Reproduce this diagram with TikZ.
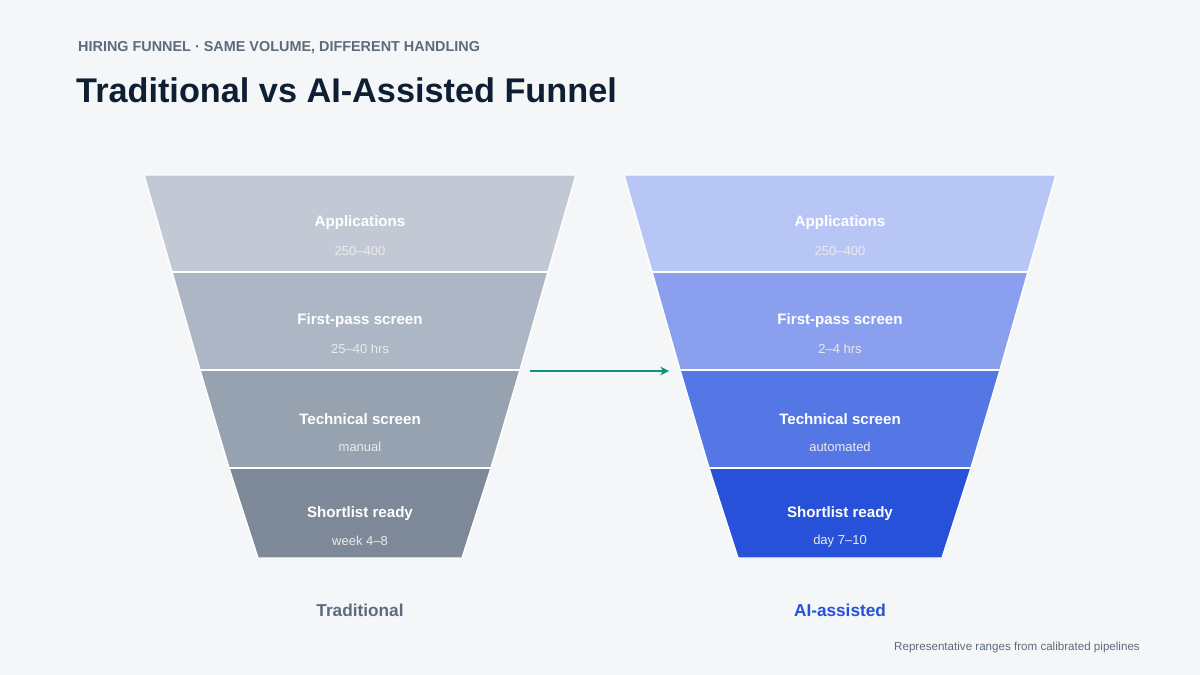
\documentclass[tikz,border=0pt]{standalone}
\usepackage{fontspec}
\setmainfont{Liberation Sans}
\usetikzlibrary{positioning, arrows.meta}
\definecolor{bg}{HTML}{F4F6F8}
\definecolor{ink}{HTML}{0F1F33}
\definecolor{muted}{HTML}{5E6B7C}
\definecolor{tA}{HTML}{C2C9D4}
\definecolor{tB}{HTML}{ADB6C4}
\definecolor{tC}{HTML}{97A2B1}
\definecolor{tD}{HTML}{7D8898}
\definecolor{aA}{HTML}{B8C6F5}
\definecolor{aB}{HTML}{8AA0EE}
\definecolor{aC}{HTML}{5577E5}
\definecolor{aD}{HTML}{2651D8}
\definecolor{teal}{HTML}{13917F}
\tikzset{%
  band/.style={draw=white, line width=0.8pt},
  stage/.style={text=white, font=\fontsize{8.6}{10}\selectfont\bfseries},
  detail/.style={text=white!92!black, font=\fontsize{7.4}{9}\selectfont},
  side/.style={font=\fontsize{9.8}{12}\selectfont\bfseries},
  link/.style={-{Stealth[length=5pt,width=5pt]}, teal, line width=1.6pt}
}
\begin{document}
\begin{tikzpicture}[x=0.02cm, y=-0.02cm]
  \fill[bg] (0,0) rectangle (1200,675);
  \useasboundingbox (0,0) rectangle (1200,675);
  \node[anchor=base west, text=muted, font=\fontsize{8.2}{10}\selectfont\bfseries] (kicker) at (72,52) {HIRING FUNNEL · SAME VOLUME, DIFFERENT HANDLING};
  \node[anchor=base west, text=ink, font=\fontsize{19.5}{23}\selectfont\bfseries] (title) at (70,103) {Traditional vs AI-Assisted Funnel};
  % traditional funnel
  \fill[band, fill=tA] (144,175) -- (576,175) -- (548,272) -- (172,272) -- cycle;
  \fill[band, fill=tB] (172,272) -- (548,272) -- (520,370) -- (200,370) -- cycle;
  \fill[band, fill=tC] (200,370) -- (520,370) -- (491,468) -- (229,468) -- cycle;
  \fill[band, fill=tD] (229,468) -- (491,468) -- (462,558) -- (258,558) -- cycle;
  \draw[white, line width=0.8pt] (172,272) -- (548,272) (200,370) -- (520,370) (229,468) -- (491,468);
  % ai-assisted funnel
  \fill[band, fill=aA] (624,175) -- (1056,175) -- (1028,272) -- (652,272) -- cycle;
  \fill[band, fill=aB] (652,272) -- (1028,272) -- (1000,370) -- (680,370) -- cycle;
  \fill[band, fill=aC] (680,370) -- (1000,370) -- (971,468) -- (709,468) -- cycle;
  \fill[band, fill=aD] (709,468) -- (971,468) -- (942,558) -- (738,558) -- cycle;
  \draw[white, line width=0.8pt] (652,272) -- (1028,272) (680,370) -- (1000,370) (709,468) -- (971,468);
  % labels
  \foreach \cx/\n/\da/\db/\dc/\dd in {360/t/250--400/25--40 hrs/manual/week 4--8, 840/a/250--400/2--4 hrs/automated/day 7--10}{
    \node[stage] (\n1) at (\cx,223) {Applications};
    \node[detail] (\n1d) at (\cx,251) {\da};
    \node[stage] (\n2) at (\cx,321) {First-pass screen};
    \node[detail] (\n2d) at (\cx,349) {\db};
    \node[stage] (\n3) at (\cx,419) {Technical screen};
    \node[detail] (\n3d) at (\cx,447) {\dc};
    \node[stage] (\n4) at (\cx,514) {Shortlist ready};
    \node[detail] (\n4d) at (\cx,541) {\dd};
  }
  \node[side, text=muted] (trad) at (360,610) {Traditional};
  \node[side, text=aD] (ai) at (840,610) {AI-assisted};
  \coordinate (from) at (530,371);
  \coordinate (to) at (669,371);
  \draw[link] (from) -- (to);
  \node[anchor=base east, text=muted, font=\fontsize{6.6}{8}\selectfont] (note) at (1146,650) {Representative ranges from calibrated pipelines};
\end{tikzpicture}
\end{document}
